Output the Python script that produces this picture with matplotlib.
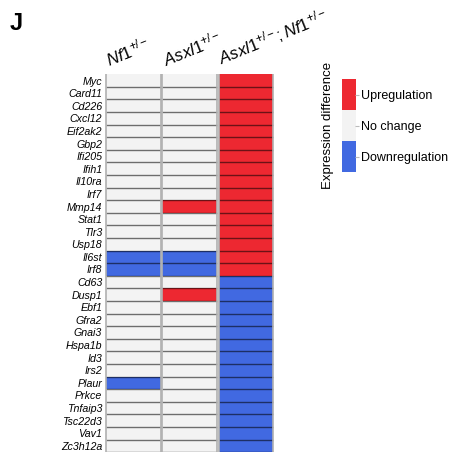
import matplotlib
matplotlib.use("Agg")
import matplotlib.pyplot as plt
import numpy as np
from matplotlib.colors import ListedColormap

plt.rcParams['font.family'] = ['Liberation Sans', 'DejaVu Sans']
plt.rcParams['mathtext.fontset'] = 'custom'
plt.rcParams['mathtext.rm'] = 'Liberation Sans'
plt.rcParams['mathtext.it'] = 'Liberation Sans:italic'

# genes (top to bottom)
genes = ["Myc", "Card11", "Cd226", "Cxcl12", "Eif2ak2", "Gbp2", "Ifi205", "Ifih1",
         "Il10ra", "Irf7", "Mmp14", "Stat1", "Tlr3", "Usp18", "Il6st", "Irf8",
         "Cd63", "Dusp1", "Ebf1", "Gfra2", "Gnai3", "Hspa1b", "Id3", "Irs2",
         "Plaur", "Prkce", "Tnfaip3", "Tsc22d3", "Vav1", "Zc3h12a"]

# 1 = up, 0 = no change, -1 = down
nf1 = [0, 0, 0, 0, 0, 0, 0, 0, 0, 0, 0, 0, 0, 0, -1, -1,
       0, 0, 0, 0, 0, 0, 0, 0, -1, 0, 0, 0, 0, 0]
asxl1 = [0, 0, 0, 0, 0, 0, 0, 0, 0, 0, 1, 0, 0, 0, -1, -1,
         0, 1, 0, 0, 0, 0, 0, 0, 0, 0, 0, 0, 0, 0]
double = [1] * 16 + [-1] * 14

col_labels = [r'$\mathit{Nf1}^{+/-}$', r'$\mathit{Asxl1}^{+/-}$',
              r'$\mathit{Asxl1}^{+/-}\mathit{;Nf1}^{+/-}$']
legend_labels = ["Upregulation", "No change", "Downregulation"]

red = "#ED2831"
grey = "#F3F3F3"
blue = "#4169E1"
colors = {1: red, 0: grey, -1: blue}

fig = plt.figure(figsize=(4.5, 4.53), dpi=100)
ax = fig.add_axes([0.2333, 0.002, 0.376, 0.834])

data = [nf1, asxl1, double]
n = len(genes)
for j, col in enumerate(data):
    cols = [colors[v] for v in col]
    ax.barh(np.arange(n), 0.97, left=j + 0.015, height=1.0, color=cols,
            edgecolor='none')
    # row separators
    ax.hlines(np.arange(n) + 0.5, j + 0.015, j + 0.985, color='black',
              alpha=0.55, lw=1.0)
    ax.vlines([j + 0.015, j + 0.985], -0.5, n - 0.5, color='#B0B0B0', lw=1.2)
    ax.text(j + 0.1, -0.9, col_labels[j], rotation=22, rotation_mode='anchor',
            ha='left', va='bottom', fontsize=12)

ax.set_xlim(0, 3)
ax.set_ylim(n - 0.5, -0.5)
ax.set_xticks([])
ax.set_yticks(np.arange(n))
ax.set_yticklabels(genes, fontstyle='italic', fontsize=7.7)
ax.tick_params(axis='y', length=0, pad=2)
for s in ax.spines.values():
    s.set_visible(False)

# legend colour bar
lax = fig.add_axes([0.76, 0.620, 0.029, 0.205])
lax.imshow(np.array([[1], [0], [-1]]), cmap=ListedColormap([blue, grey, red]),
           aspect='auto', extent=[0, 1, 2.5, -0.5])
lax.set_xticks([])
lax.yaxis.tick_right()
lax.set_ylim(2.5, -0.5)
lax.set_yticks([0, 1, 2])
lax.set_yticklabels(legend_labels, fontsize=9)
lax.tick_params(axis='y', length=3, color='#BBBBBB', pad=1)
lax.set_ylabel("Expression difference", fontsize=9.5, labelpad=6)
lax.yaxis.set_label_position('left')
for s in lax.spines.values():
    s.set_visible(False)

fig.text(0.022, 0.948, "J", fontsize=17, fontweight='bold', va='center')

fig.savefig("out.png", dpi=100)
